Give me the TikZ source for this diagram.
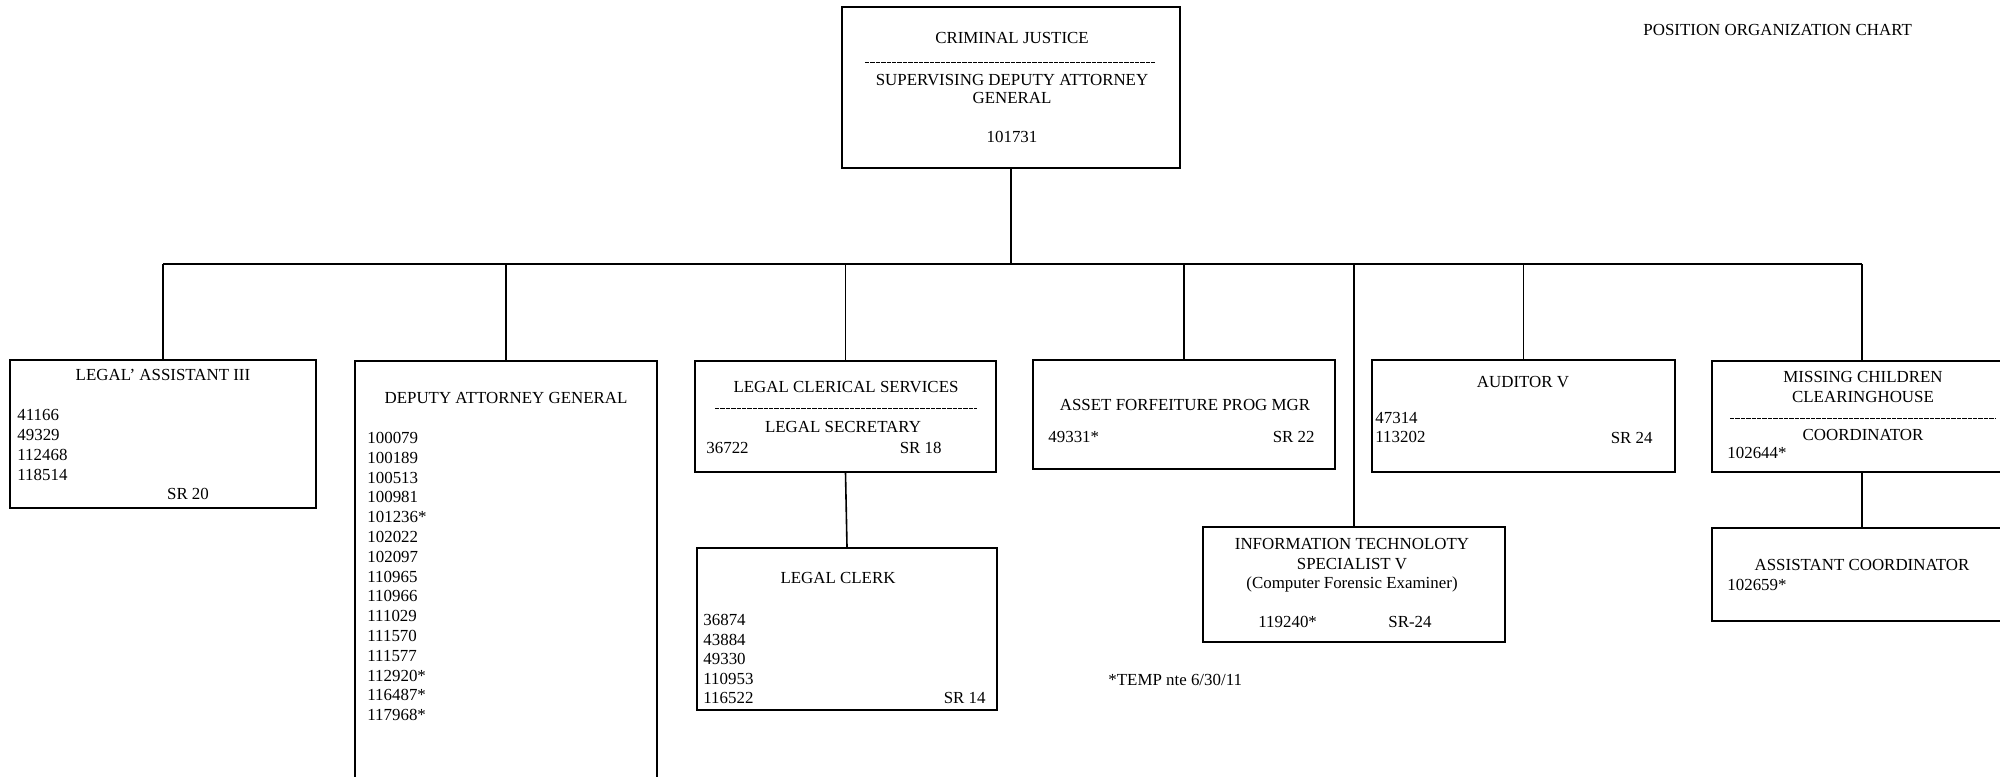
\documentclass[tikz,border=0pt]{standalone}
\usepackage{fontspec}
\setmainfont{Liberation Serif}
\begin{document}
\begin{tikzpicture}[x=0.5pt,y=-0.5pt,
  bx/.style={draw, line width=0.9pt, inner sep=0pt},
  lbl/.style={font=\fontsize{8.45}{10}\selectfont, inner sep=0pt},
  num/.style={lbl, anchor=west},
  rnum/.style={lbl, anchor=east},
  sep/.style={line width=0.5pt, dash pattern=on 2.2pt off 0.5pt},
  conn/.style={line width=0.8pt}]
\useasboundingbox (0,0) rectangle (2000,776);
% boxes
\node[bx, minimum width=169pt, minimum height=80.5pt] (top) at (1011,87.5) {};
\node[bx, minimum width=153pt, minimum height=74pt] (la) at (163,434) {};
\node[bx, minimum width=151pt, minimum height=219.5pt] (dag) at (506,580.5) {};
\node[bx, minimum width=150.5pt, minimum height=55.5pt] (lcs) at (845.5,416.5) {};
\node[bx, minimum width=150pt, minimum height=81pt] (lc) at (847,629) {};
\node[bx, minimum width=151pt, minimum height=54.5pt] (af) at (1184,414.5) {};
\node[bx, minimum width=151.5pt, minimum height=56pt] (aud) at (1523.5,416) {};
\node[bx, minimum width=151pt, minimum height=57.5pt] (it) at (1354,584.5) {};
\node[bx, minimum width=150pt, minimum height=55.5pt] (mc) at (1862,416.5) {};
\node[bx, minimum width=150pt, minimum height=46.5pt] (ac) at (1862,574.5) {};
% connectors
\coordinate (bar) at (0,264);
\draw[conn] (top.south) -- (top.south |- bar);
\draw[conn] (la.north |- bar) -- (mc.north |- bar);
\foreach \n in {la,dag,lcs,af,aud,mc,it} \draw[conn] (\n.north |- bar) -- (\n.north);
\draw[conn] (lcs.south) -- (lc.north);
\draw[conn] (mc.south) -- (ac.north);
% top box
\node[lbl] (t1) at (1012,38) {CRIMINAL JUSTICE};
\draw[sep] (865,62) -- (1155,62);
\node[lbl] (t2) at (1012,80) {SUPERVISING DEPUTY ATTORNEY};
\node[lbl] (t3) at (1012,98) {GENERAL};
\node[lbl] (t4) at (1012,137) {101731};
% legal assistant
\node[lbl] (la1) at (163,375) {LEGAL' ASSISTANT III};
\foreach \t [count=\i] in {41166,49329,112468,118514}
  \node[num] (lan\i) at (17,{415+20*(\i-1)}) {\t};
\node[lbl] (la2) at (188,494) {SR 20};
% deputy AG
\node[lbl] (dag1) at (506,398) {DEPUTY ATTORNEY GENERAL};
\foreach \t [count=\i] in {100079,100189,100513,100981,101236*,102022,102097,110965,110966,111029,111570,111577,112920*,116487*,117968*}
  \node[num] (dagn\i) at (367,{438+19.8*(\i-1)}) {\t};
% legal clerical services
\node[lbl] (lcs1) at (846,387) {LEGAL CLERICAL SERVICES};
\draw[sep] (715,408) -- (977,408);
\node[lbl] (lcs2) at (843,427) {LEGAL SECRETARY};
\node[num] (lcs3) at (706,448) {36722};
\node[rnum] (lcs4) at (942,448) {SR 18};
% legal clerk
\node[lbl] (lc1) at (838,578) {LEGAL CLERK};
\foreach \t [count=\i] in {36874,43884,49330,110953,116522}
  \node[num] (lcn\i) at (703,{620+19.5*(\i-1)}) {\t};
\node[rnum] (lc2) at (986,698) {SR 14};
% asset forfeiture
\node[lbl] (af1) at (1185,405) {ASSET FORFEITURE PROG MGR};
\node[num] (af2) at (1048,437) {49331*};
\node[rnum] (af3) at (1315,437) {SR 22};
% auditor
\node[lbl] (aud1) at (1523,382) {AUDITOR V};
\node[num] (aud2) at (1375,418) {47314};
\node[num] (aud3) at (1375,437) {113202};
\node[rnum] (aud4) at (1653,438) {SR 24};
% missing children
\node[lbl] (mc1) at (1863,377) {MISSING CHILDREN};
\node[lbl] (mc2) at (1863,397) {CLEARINGHOUSE};
\draw[sep] (1730,418) -- (1995,418);
\node[lbl] (mc3) at (1863,435) {COORDINATOR};
\node[num] (mc4) at (1727,453) {102644*};
% assistant coordinator
\node[lbl] (ac1) at (1862,565) {ASSISTANT COORDINATOR};
\node[num] (ac2) at (1727,585) {102659*};
% IT
\node[lbl] (it1) at (1352,544) {INFORMATION TECHNOLOTY};
\node[lbl] (it2) at (1352,564) {SPECIALIST V};
\node[lbl] (it3) at (1352,584) {(Computer Forensic Examiner)};
\node[num] (it4) at (1258,622) {119240*};
\node[rnum] (it5) at (1432,622) {SR-24};
% notes
\node[num] (temp) at (1108,680) {*TEMP nte 6/30/11};
\node[num] (poc) at (1643,30) {POSITION ORGANIZATION CHART};
\end{tikzpicture}
\end{document}
